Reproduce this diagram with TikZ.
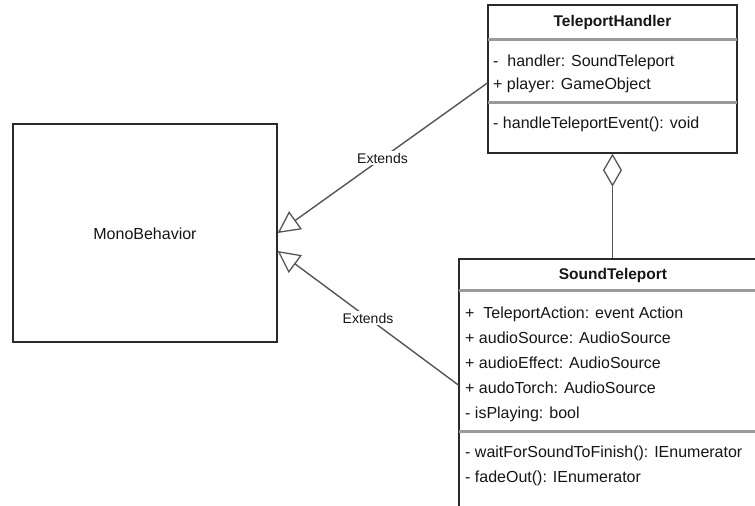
\documentclass[tikz,border=0pt]{standalone}
\usepackage{fontspec}
\setmainfont{Liberation Sans}
\usetikzlibrary{arrows.meta,calc}
\definecolor{ink}{HTML}{161616}
\definecolor{edge}{HTML}{2A2A2A}
\definecolor{wire}{HTML}{555555}
\definecolor{sep}{HTML}{9A9A9A}
\tikzset{
  classbox/.style={draw=edge, line width=1.3pt, fill=white, inner sep=0pt, rectangle},
  title/.style={font=\fontsize{15.5}{18}\selectfont\bfseries, text=ink, inner sep=0pt, anchor=base},
  member/.style={font=\fontsize{16}{19}\selectfont, text=ink, inner sep=0pt, anchor=base west},
  divider/.style={draw=sep, line width=3pt},
  extends/.style={draw=wire, line width=1.4pt, -{Triangle[open, length=22pt, width=22pt, line width=1.3pt]}},
  aggregation/.style={draw=wire, line width=1.4pt, {Diamond[open, length=33pt, width=19pt, line width=1.3pt]}-},
  tag/.style={font=\fontsize{14}{16}\selectfont, text=ink, fill=white, inner sep=1.5pt}
}
\begin{document}
\begin{tikzpicture}[x=1pt, y=-1pt]
\clip (0,0) rectangle (755,506);
\fill[white] (0,0) rectangle (755,506);

% MonoBehavior
\node[classbox, minimum width=264pt, minimum height=218pt] (mb) at (145,233) {};
\node[font=\fontsize{16}{19}\selectfont, text=ink] (mbname) at (145,234) {MonoBehavior};

% TeleportHandler
\node[classbox, minimum width=249pt, minimum height=148pt] (th) at (612.5,79) {};
\node[title] (thname) at (612.5,27) {TeleportHandler};
\draw[divider] ($(th.north west)+(0.8,35)$) -- ($(th.north east)+(-0.8,35)$);
\draw[divider] ($(th.north west)+(0.8,98)$) -- ($(th.north east)+(-0.8,98)$);
\node[member] (th1) at (493,66) {-\ \ handler: SoundTeleport};
\node[member] (th2) at (493,89) {+ player: GameObject};
\node[member] (th3) at (493,128) {- handleTeleportEvent(): void};

% SoundTeleport
\node[classbox, minimum width=308pt, minimum height=260pt] (st) at (613,389) {};
\node[title] (stname) at (613,279) {SoundTeleport};
\draw[divider] ($(st.north west)+(0.8,32)$) -- ($(st.north east)+(-0.8,32)$);
\draw[divider] ($(st.north west)+(0.8,173)$) -- ($(st.north east)+(-0.8,173)$);
\node[member] (st1) at (465,318) {+\ \ TeleportAction: event Action};
\node[member] (st2) at (465,343) {+ audioSource: AudioSource};
\node[member] (st3) at (465,368) {+ audioEffect: AudioSource};
\node[member] (st4) at (465,393) {+ audoTorch: AudioSource};
\node[member] (st5) at (465,418) {- isPlaying: bool};
\node[member] (st6) at (465,457) {- waitForSoundToFinish(): IEnumerator};
\node[member] (st7) at (465,482) {- fadeOut(): IEnumerator};

% Relations
\draw[extends] ([yshift=-4pt]th.west) -- node[tag] {Extends} (mb.east);
\draw[extends] ([yshift=4pt]st.west) -- node[tag] {Extends} ([yshift=-18pt]mb.east);
\draw[aggregation] (th.south) -- (th.south |- st.north);
\end{tikzpicture}
\end{document}
